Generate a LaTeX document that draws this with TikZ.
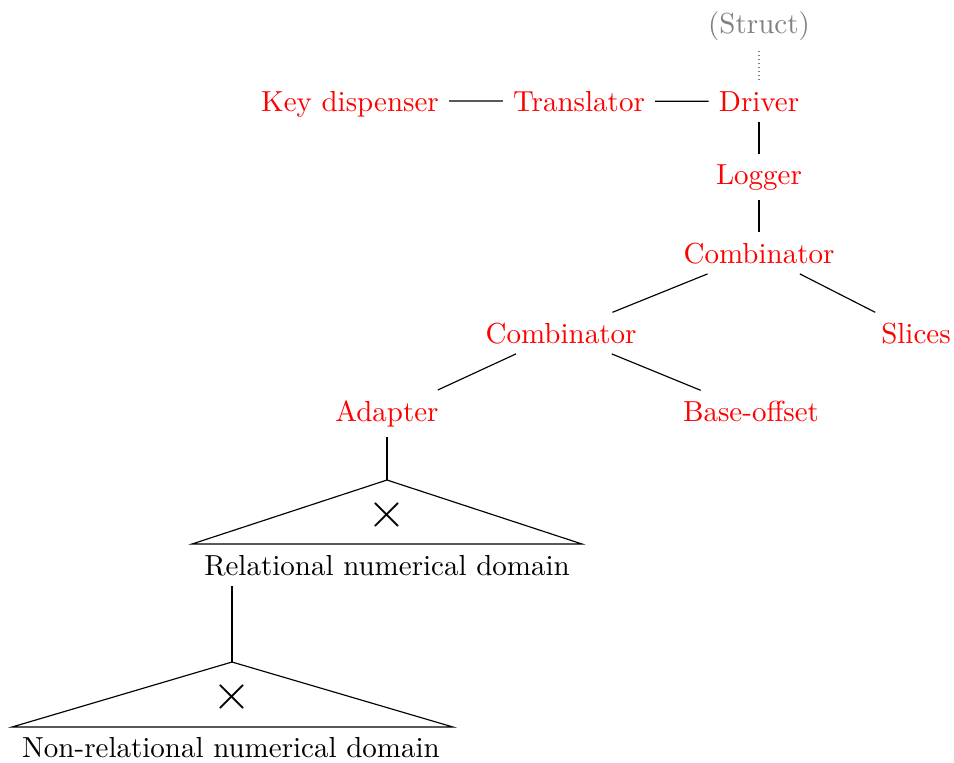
\documentclass[tikz,border=0pt]{standalone}
\begin{document}
\begin{tikzpicture}[x=0.3448pt,y=-0.3448pt,
  lbl/.style={text=red, anchor=base},
  plain/.style={text=black, anchor=base},
  crossmark/.style={font=\LARGE, inner sep=0pt},
  roof/.style={draw=black, line width=0.4pt, line join=miter},
  link/.style={draw=black, line width=0.4pt}]
\useasboundingbox (0,0) rectangle (954,762);
% nodes
\node[anchor=base, text=gray] (st) at (759,33) {(Struct)};
\node[lbl] (dr) at (759,111) {Driver};
\node[lbl] (tr) at (579,111) {Translator};
\node[lbl, text depth=0pt] (kd) at (350,111) {Key dispenser};
\node[lbl] (lg) at (759,184) {Logger};
\node[lbl] (c1) at (759,263) {Combinator};
\node[lbl] (c2) at (561,343) {Combinator};
\node[lbl] (sl) at (916,343) {Slices};
\node[lbl] (ad) at (387,421) {Adapter};
\node[lbl] (bo) at (751,421) {Base-offset};
% first triangle
\coordinate (a1) at (387,480);
\coordinate (l1) at (192,544);
\coordinate (r1) at (582,544);
\draw[roof] (a1) -- (l1) -- (r1) -- cycle;
\node[crossmark] (x1) at (387,515) {$\times$};
\node[plain] (rel) at (387,575) {Relational numerical domain};
% second triangle
\coordinate (a2) at (232,662);
\coordinate (l2) at (12,727);
\coordinate (r2) at (453,727);
\draw[roof] (a2) -- (l2) -- (r2) -- cycle;
\node[crossmark] (x2) at (232,697) {$\times$};
\node[plain] (nrel) at (231,757) {Non-relational numerical domain};
% connectors
\draw[gray, densely dotted] (st) -- (dr);
\draw[link] (kd) -- (tr);
\draw[link] (tr) -- (dr);
\draw[link] (dr) -- (lg);
\draw[link] (lg) -- (c1);
\draw[link] (c1) -- (c2);
\draw[link] (c1) -- (sl);
\draw[link] (c2) -- (ad);
\draw[link] (c2) -- (bo);
\draw[link] (ad) -- (a1);
\draw[link] (rel.south -| a2) -- (a2);
\end{tikzpicture}
\end{document}
